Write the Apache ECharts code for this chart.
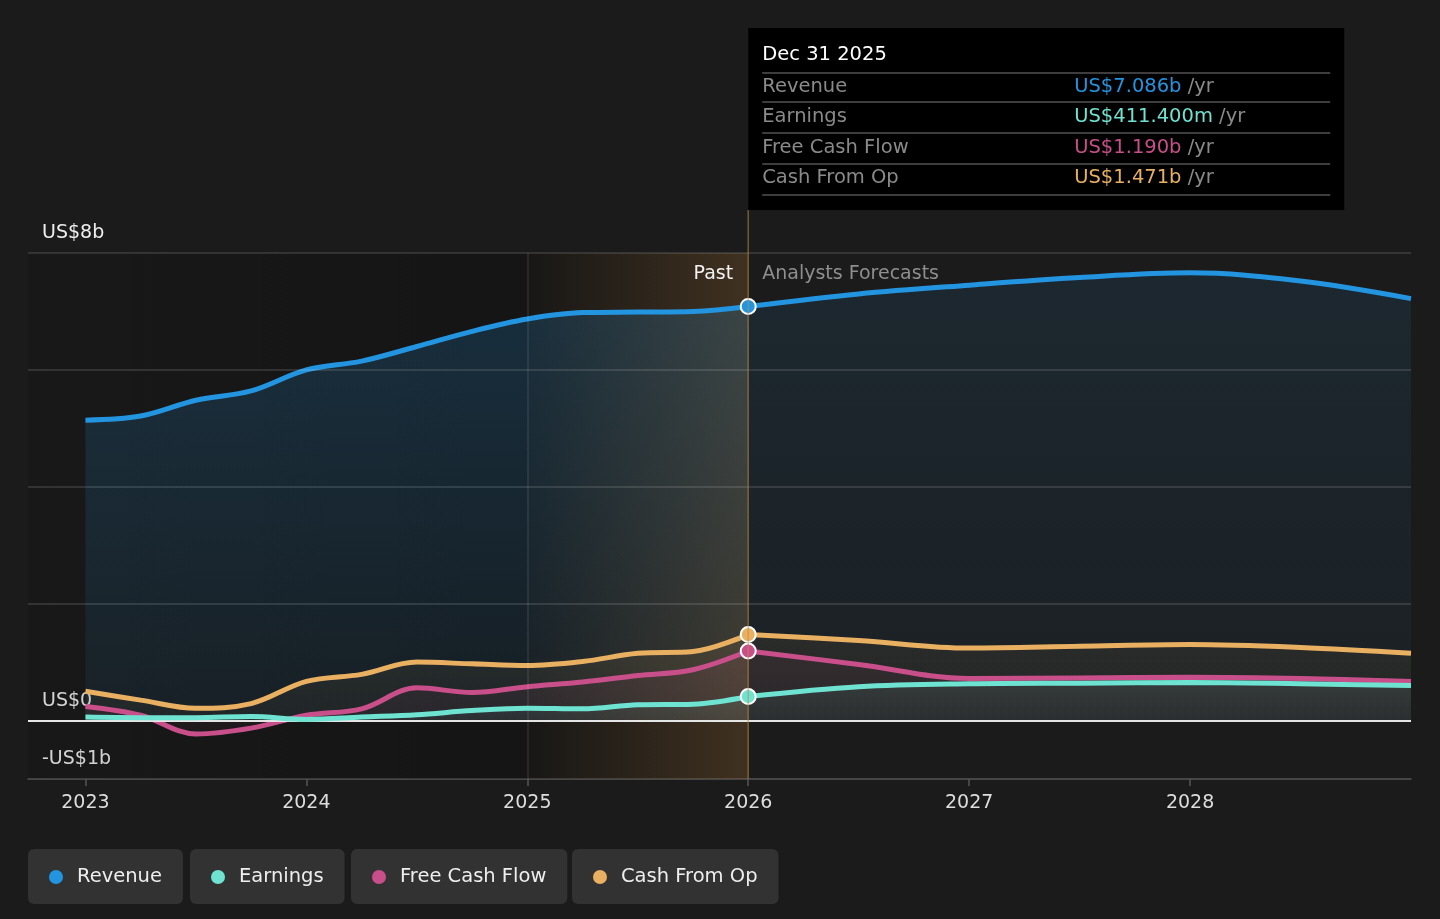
<!DOCTYPE html>
<html>
<head>
<meta charset="utf-8">
<script src="https://cdn.jsdelivr.net/npm/echarts@6/dist/echarts.min.js"></script>
<style>
html, body { margin: 0; padding: 0; background: #1b1b1b; }
#main { width: 1440px; height: 919px; }
</style>
</head>
<body>
<div id="main"></div>
<script>
// past quarters (decimal years), last point = Dec 31 2025
var pastYears = [2023.0, 2023.25, 2023.5, 2023.75, 2024.0, 2024.25, 2024.5, 2024.75, 2025.0, 2025.25, 2025.5, 2025.75, 2026.0];
var revenuePast  = [5.14, 5.21, 5.48, 5.64, 6.00, 6.15, 6.40, 6.66, 6.87, 6.98, 6.99, 7.00, 7.086];
var earningsPast = [0.06, 0.05, 0.05, 0.07, 0.02, 0.06, 0.10, 0.17, 0.21, 0.20, 0.27, 0.28, 0.4114];
var fcfPast      = [0.24, 0.09, -0.23, -0.13, 0.09, 0.20, 0.56, 0.48, 0.58, 0.66, 0.77, 0.87, 1.190];
var cfoPast      = [0.50, 0.35, 0.21, 0.29, 0.67, 0.79, 1.00, 0.97, 0.94, 1.01, 1.15, 1.18, 1.471];

// analyst forecasts
var fcYears = [2026.0, 2026.5, 2027.0, 2027.5, 2028.0, 2028.5, 2029.0];
var revenueFc  = [7.086, 7.30, 7.45, 7.58, 7.66, 7.52, 7.22];
var earningsFc = [0.4114, 0.58, 0.63, 0.64, 0.65, 0.63, 0.60];
var fcfFc      = [1.190, 0.96, 0.72, 0.73, 0.74, 0.72, 0.67];
var cfoFc      = [1.471, 1.37, 1.24, 1.27, 1.30, 1.25, 1.15];

var yearTicks = [2023, 2024, 2025, 2026, 2027, 2028];
var yLabelValues = [-1, 0, 8];
var gridValues = [2, 4, 6, 8];

var FONT = 'DejaVu Sans';
var colors = {
    Revenue: '#2394e0',
    Earnings: '#6fe3d1',
    'Free Cash Flow': '#c94f8a',
    'Cash From Op': '#e9b062'
};

function pairs(xs, ys) {
    return xs.map(function (x, i) { return [x, ys[i]]; });
}

function rgba(hex, a) {
    var n = parseInt(hex.slice(1), 16);
    return 'rgba(' + (n >> 16) + ',' + ((n >> 8) & 255) + ',' + (n & 255) + ',' + a + ')';
}

function lineSeries(name, data, areaTop, areaBottom, z) {
    return {
        name: name,
        type: 'line',
        smooth: 0.35,
        symbol: 'none',
        z: z,
        data: data,
        lineStyle: { color: colors[name], width: 5 },
        itemStyle: { color: colors[name] },
        areaStyle: {
            color: {
                type: 'linear', x: 0, y: 0, x2: 0, y2: 1,
                colorStops: [
                    { offset: 0, color: rgba(colors[name], areaTop) },
                    { offset: 1, color: rgba(colors[name], areaBottom) }
                ]
            }
        }
    };
}

var last = pastYears.length - 1;
var chart = echarts.init(document.getElementById('main'));

var legendLefts = [28, 190, 351, 572];
var legendNames = ['Revenue', 'Earnings', 'Free Cash Flow', 'Cash From Op'];
var legends = legendNames.map(function (n, i) {
    return {
        data: [{ name: n, icon: 'circle' }],
        left: legendLefts[i],
        top: 849,
        backgroundColor: '#323232',
        borderRadius: 6,
        padding: [18, 21, 17, 21],
        itemWidth: 14,
        itemHeight: 14,
        selectedMode: false,
        textStyle: { color: '#eeeeee', fontSize: 19.5, fontFamily: FONT, padding: [0, 0, 0, 9] }
    };
});

var option = {
    backgroundColor: '#1b1b1b',
    animation: false,
    textStyle: { fontFamily: FONT },
    legend: legends,
    grid: { left: 28, right: 29, top: 253, bottom: 140 },
    xAxis: {
        type: 'value',
        min: 2022.74,
        max: 2029,
        splitLine: { show: false },
        axisLine: { show: true, onZero: false, lineStyle: { color: '#555555', width: 1.5 } },
        axisTick: { show: true, customValues: yearTicks, length: 7, lineStyle: { color: '#555555', width: 1.5 } },
        axisLabel: {
            customValues: yearTicks,
            color: '#dddddd',
            fontSize: 19,
            margin: 15,
            formatter: function (v) { return String(Math.round(v)); }
        }
    },
    yAxis: {
        type: 'value',
        min: -1,
        max: 8,
        splitLine: { show: false },
        axisLine: { show: false },
        axisTick: { show: false },
        axisLabel: {
            inside: true,
            customValues: yLabelValues,
            margin: 14,
            color: '#eeeeee',
            fontSize: 19,
            verticalAlign: 'bottom',
            padding: [0, 0, 10, 0],
            formatter: function (v) {
                if (v === 0) return 'US$0';
                if (v < 0) return '-US$' + Math.abs(v) + 'b';
                return 'US$' + v + 'b';
            }
        }
    },
    series: [
        {
            name: 'bg',
            type: 'line',
            z: 1,
            data: [],
            silent: true,
            markArea: {
                silent: true,
                data: [
                    [{ xAxis: 2022.74, itemStyle: { color: {
                        type: 'linear', x: 0, y: 0, x2: 1, y2: 0,
                        colorStops: [{ offset: 0, color: 'rgba(0,0,0,0.1)' }, { offset: 1, color: 'rgba(0,0,0,0.24)' }]
                    } } }, { xAxis: 2025 }],
                    [{ xAxis: 2025, itemStyle: { color: 'rgba(0,0,0,0.2)' } }, { xAxis: 2026 }]
                ]
            },
            markLine: {
                silent: true,
                symbol: 'none',
                label: { show: false },
                data: gridValues.map(function (v) {
                    return { yAxis: v, lineStyle: { color: 'rgba(255,255,255,0.16)', width: 1.5, type: 'solid' } };
                }).concat([
                    { xAxis: 2025, lineStyle: { color: 'rgba(255,255,255,0.1)', width: 1.5, type: 'solid' } }
                ])
            }
        },
        // past (reported) figures
        lineSeries('Revenue', pairs(pastYears, revenuePast), 0.28, 0.1, 2),
        lineSeries('Cash From Op', pairs(pastYears, cfoPast), 0.12, 0.06, 3),
        lineSeries('Free Cash Flow', pairs(pastYears, fcfPast), 0.12, 0.06, 4),
        lineSeries('Earnings', pairs(pastYears, earningsPast), 0.14, 0.07, 5),
        // analyst forecasts
        lineSeries('Revenue', pairs(fcYears, revenueFc), 0.15, 0.06, 2),
        lineSeries('Cash From Op', pairs(fcYears, cfoFc), 0.1, 0.05, 3),
        lineSeries('Free Cash Flow', pairs(fcYears, fcfFc), 0.1, 0.05, 4),
        lineSeries('Earnings', pairs(fcYears, earningsFc), 0.12, 0.06, 5),
        {
            name: 'zero',
            type: 'line',
            z: 6,
            data: [],
            silent: true,
            markLine: {
                silent: true,
                symbol: 'none',
                label: { show: false },
                data: [{ yAxis: 0, lineStyle: { color: '#e6e6e6', width: 2, type: 'solid' } }]
            }
        },
        {
            // warm "past" highlight drawn over the lines
            name: 'highlight',
            type: 'line',
            z: 7,
            data: [],
            silent: true,
            markArea: {
                silent: true,
                data: [
                    [{ xAxis: 2025, itemStyle: { color: {
                        type: 'linear', x: 0, y: 0, x2: 1, y2: 0,
                        colorStops: [{ offset: 0, color: 'rgba(190,130,60,0.02)' }, { offset: 1, color: 'rgba(200,140,70,0.24)' }]
                    } } }, { xAxis: 2026 }]
                ]
            }
        },
        {
            name: 'now',
            type: 'scatter',
            z: 10,
            symbol: 'circle',
            symbolSize: 15,
            silent: true,
            data: [
                { value: [pastYears[last], revenuePast[last]], itemStyle: { color: colors.Revenue } },
                { value: [pastYears[last], cfoPast[last]], itemStyle: { color: colors['Cash From Op'] } },
                { value: [pastYears[last], fcfPast[last]], itemStyle: { color: colors['Free Cash Flow'] } },
                { value: [pastYears[last], earningsPast[last]], itemStyle: { color: colors.Earnings } }
            ],
            itemStyle: { borderColor: '#ffffff', borderWidth: 2, opacity: 1 }
        }
    ]
};
chart.setOption(option);

// overlay: divider line, Past/Forecast captions and the fixed tooltip box
var x26 = chart.convertToPixel({ xAxisIndex: 0 }, 2026);
var yTop = chart.convertToPixel({ yAxisIndex: 0 }, 8);
var yBot = chart.convertToPixel({ yAxisIndex: 0 }, -1);
var boxTop = 28, boxH = 182, boxW = 596;

var rows = [
    ['Revenue', 'US$' + revenuePast[last].toFixed(3) + 'b', colors.Revenue],
    ['Earnings', 'US$' + (earningsPast[last] * 1000).toFixed(3) + 'm', colors.Earnings],
    ['Free Cash Flow', 'US$' + fcfPast[last].toFixed(3) + 'b', colors['Free Cash Flow']],
    ['Cash From Op', 'US$' + cfoPast[last].toFixed(3) + 'b', colors['Cash From Op']]
];
var rowY = [87, 117, 148, 178];
var sepY = [73, 102, 133, 164, 195];

var elements = [
    {
        type: 'line', z: 50, silent: true,
        shape: { x1: x26, y1: boxTop + boxH, x2: x26, y2: yBot },
        style: { stroke: 'rgba(190,140,70,0.55)', lineWidth: 1.5 }
    },
    {
        type: 'text', z: 50, silent: true, x: x26 - 15, y: yTop + 21,
        style: { text: 'Past', fill: '#f2f2f2', fontSize: 19, fontFamily: FONT, align: 'right', verticalAlign: 'middle' }
    },
    {
        type: 'text', z: 50, silent: true, x: x26 + 14, y: yTop + 21,
        style: { text: 'Analysts Forecasts', fill: '#8e8e8e', fontSize: 19, fontFamily: FONT, align: 'left', verticalAlign: 'middle' }
    },
    {
        type: 'rect', z: 60, silent: true,
        shape: { x: x26, y: boxTop, width: boxW, height: boxH },
        style: { fill: '#000000' }
    },
    {
        type: 'text', z: 61, silent: true, x: x26 + 14, y: 55,
        style: { text: 'Dec 31 2025', fill: '#ffffff', fontSize: 19.5, fontFamily: FONT, verticalAlign: 'middle' }
    }
];
sepY.forEach(function (y) {
    elements.push({
        type: 'line', z: 61, silent: true,
        shape: { x1: x26 + 14, y1: y, x2: x26 + 582, y2: y },
        style: { stroke: '#3d3d3d', lineWidth: 2 }
    });
});
rows.forEach(function (r, i) {
    elements.push({
        type: 'text', z: 61, silent: true, x: x26 + 14, y: rowY[i],
        style: { text: r[0], fill: '#8a8a8a', fontSize: 19.5, fontFamily: FONT, verticalAlign: 'middle' }
    });
    elements.push({
        type: 'text', z: 61, silent: true, x: x26 + 326, y: rowY[i],
        style: {
            text: '{v|' + r[1] + '} {u|/yr}',
            fontSize: 19.5, fontFamily: FONT, verticalAlign: 'middle',
            rich: {
                v: { fill: r[2], fontSize: 19.5, fontFamily: FONT },
                u: { fill: '#8a8a8a', fontSize: 19.5, fontFamily: FONT }
            }
        }
    });
});
chart.setOption({ graphic: { elements: elements } });
</script>
</body>
</html>
